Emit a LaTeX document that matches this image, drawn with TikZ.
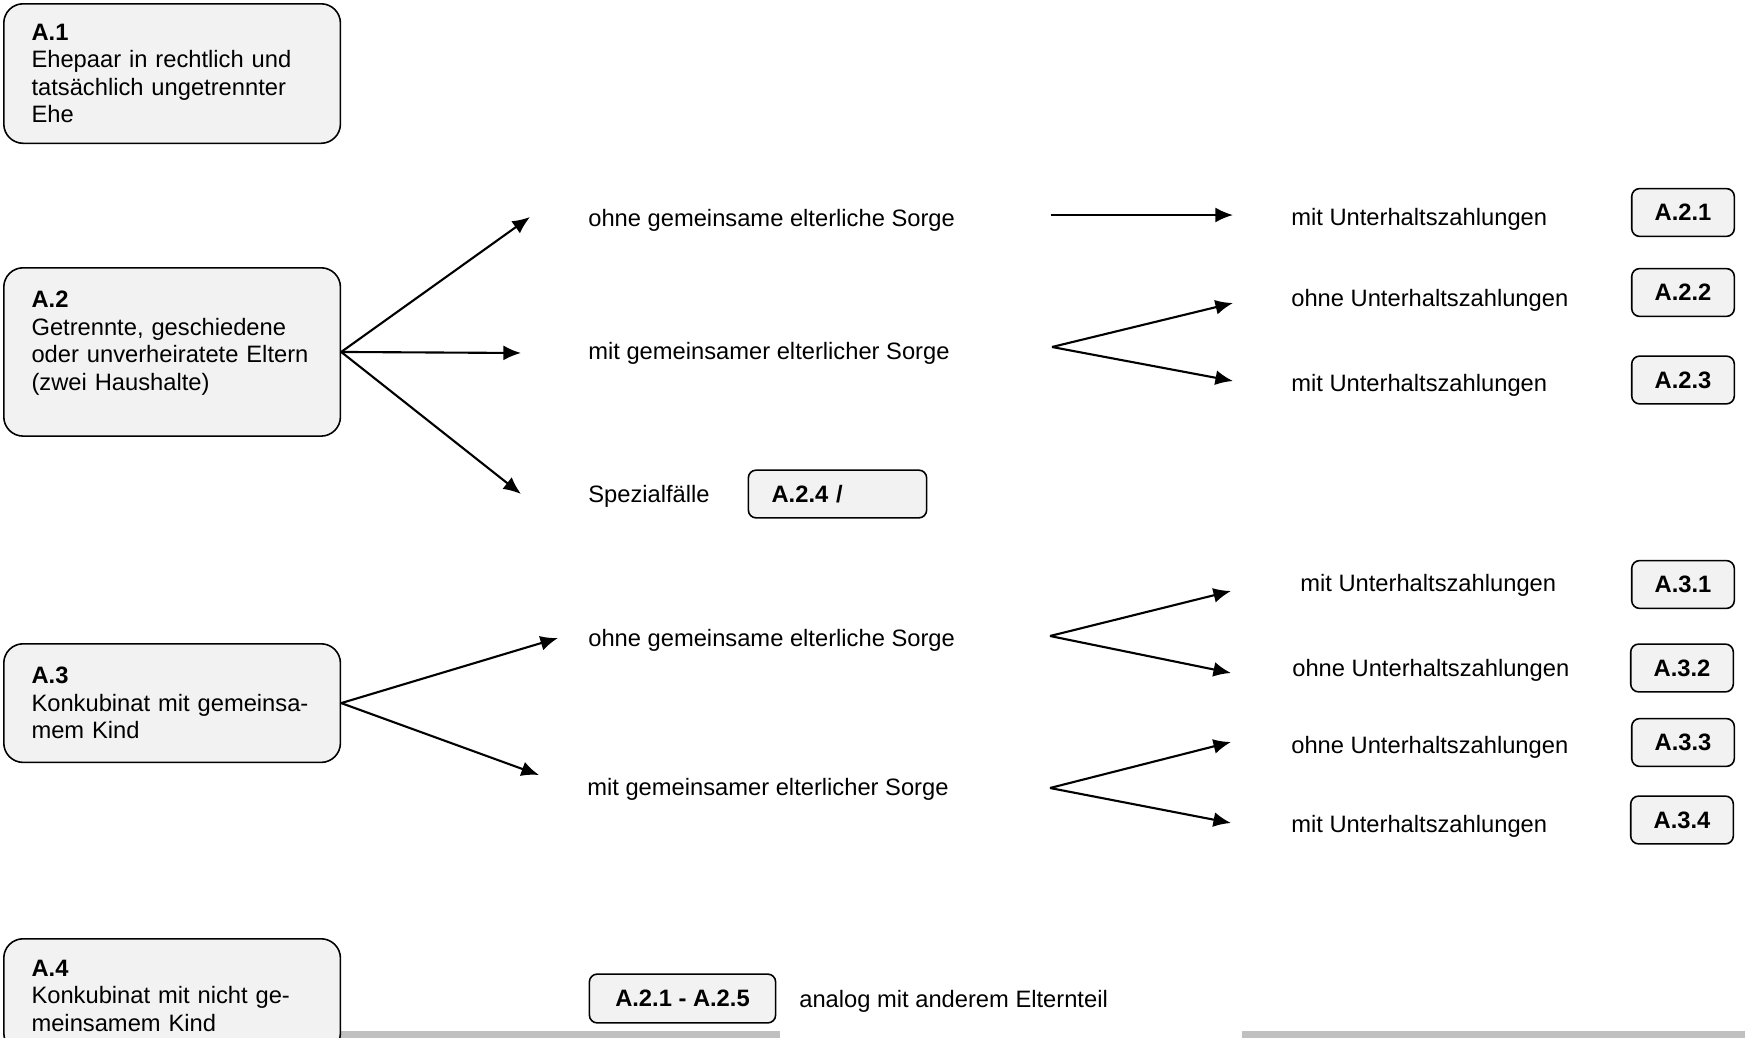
\documentclass[tikz,border=0pt]{standalone}
\usepackage{fontspec}
\setmainfont{Liberation Sans}
\usetikzlibrary{arrows.meta,positioning}
\definecolor{boxfill}{HTML}{F2F2F2}
\definecolor{ink}{HTML}{000000}
\definecolor{bar}{HTML}{C0C0C0}
\tikzset{
  >={Latex[length=10pt,width=8.5pt]},
  every node/.style={font=\fontsize{13.5}{15.7}\selectfont,text=ink},
  casebox/.style={draw=ink,line width=0.9pt,rounded corners=11pt,fill=boxfill,anchor=north west,
    minimum width=191.6pt,text width=160pt,inner xsep=15.8pt,align=left},
  tagbox/.style={draw=ink,line width=0.9pt,rounded corners=4.5pt,fill=boxfill,
    minimum width=58.4pt,minimum height=27.2pt,font=\fontsize{13.5}{15.7}\selectfont\bfseries},
  txt/.style={anchor=west,inner sep=0pt},
  arrow/.style={->,line width=1.2pt,draw=ink},
}

\begin{document}
\begin{tikzpicture}[x=0.02cm,y=-0.02cm]
\useasboundingbox (0,0) rectangle (1745,1038);
\clip (0,0) rectangle (1745,1038);

% bars at the bottom edge
\fill[bar] (339,1031) rectangle (780,1038);
\fill[bar] (1242,1031) rectangle (1745,1038);

% cases
\node[casebox,minimum height=79.4pt] (a1) at (3,3)
  {\textbf{A.1}\\Ehepaar in rechtlich und\\tatsächlich ungetrennter\\Ehe};
\node[casebox,minimum height=95.8pt] (a2) at (3,267)
  {\textbf{A.2}\\Getrennte, geschiedene\\oder unverheiratete Eltern\\(zwei Haushalte)\rule[-13pt]{0pt}{13pt}};
\node[casebox,minimum height=67.5pt] (a3) at (3,643)
  {\textbf{A.3}\\Konkubinat mit gemeinsa-\\mem Kind};
\node[casebox,minimum height=64.6pt] (a4) at (3,938)
  {\textbf{A.4}\\Konkubinat mit nicht ge-\\meinsamem Kind};

% custody
\node[txt] (a2ohne) at (588,220) {ohne gemeinsame elterliche Sorge};
\node[txt] (a2mit) at (588,353) {mit gemeinsamer elterlicher Sorge};
\node[txt] (spez) at (588,496) {Spezialfälle};
\node[tagbox,minimum width=101.5pt,text width=75pt,inner xsep=13.2pt,align=left] (a24) at (837.5,494) {A.2.4 /};
\node[txt] (a3ohne) at (588,640) {ohne gemeinsame elterliche Sorge};
\node[txt] (a3mit) at (587,789) {mit gemeinsamer elterlicher Sorge};

\node[tagbox,minimum width=106pt,minimum height=27.8pt] (a2all) at (682.5,998.5) {A.2.1 - A.2.5};
\node[txt] (analog) at (799,1001) {analog mit anderem Elternteil};

% maintenance
\node[txt] (u21) at (1291,219) {mit Unterhaltszahlungen};
\node[txt] (u22) at (1291,300) {ohne Unterhaltszahlungen};
\node[txt] (u23) at (1291,385) {mit Unterhaltszahlungen};
\node[txt] (u31) at (1300,585) {mit Unterhaltszahlungen};
\node[txt] (u32) at (1292,670) {ohne Unterhaltszahlungen};
\node[txt] (u33) at (1291,747) {ohne Unterhaltszahlungen};
\node[txt] (u34) at (1291,826) {mit Unterhaltszahlungen};

\node[tagbox] (t21) at (1683,212.5) {A.2.1};
\node[tagbox] (t22) at (1683,292.5) {A.2.2};
\node[tagbox] (t23) at (1683,380) {A.2.3};
\node[tagbox] (t31) at (1683,584.5) {A.3.1};
\node[tagbox] (t32) at (1682,668) {A.3.2};
\node[tagbox] (t33) at (1683,742.5) {A.3.3};
\node[tagbox] (t34) at (1682,820) {A.3.4};

% arrow ends
\coordinate (p2a) at (530,217);
\coordinate (p2b) at (521,353);
\coordinate (p2c) at (521,494);
\coordinate (p3a) at (558,638);
\coordinate (p3b) at (539,775);
\coordinate (f21) at (1051,215);
\coordinate (g21) at (1233,215);
\coordinate (f22) at (1052,347);
\coordinate (g22a) at (1233,303);
\coordinate (g22b) at (1233,381);
\coordinate (f31) at (1050,636);
\coordinate (g31a) at (1231,591);
\coordinate (g31b) at (1231,673);
\coordinate (f32) at (1050,788);
\coordinate (g32a) at (1231,742);
\coordinate (g32b) at (1231,823);

\draw[arrow] (a2.east) -- (p2a);
\draw[arrow] (a2.east) -- (p2b);
\draw[arrow] (a2.east) -- (p2c);
\draw[arrow] (a3.east) -- (p3a);
\draw[arrow] (a3.east) -- (p3b);

\draw[arrow] (f21) -- (g21);
\draw[arrow] (f22) -- (g22a);
\draw[arrow] (f22) -- (g22b);
\draw[arrow] (f31) -- (g31a);
\draw[arrow] (f31) -- (g31b);
\draw[arrow] (f32) -- (g32a);
\draw[arrow] (f32) -- (g32b);

\end{tikzpicture}
\end{document}
